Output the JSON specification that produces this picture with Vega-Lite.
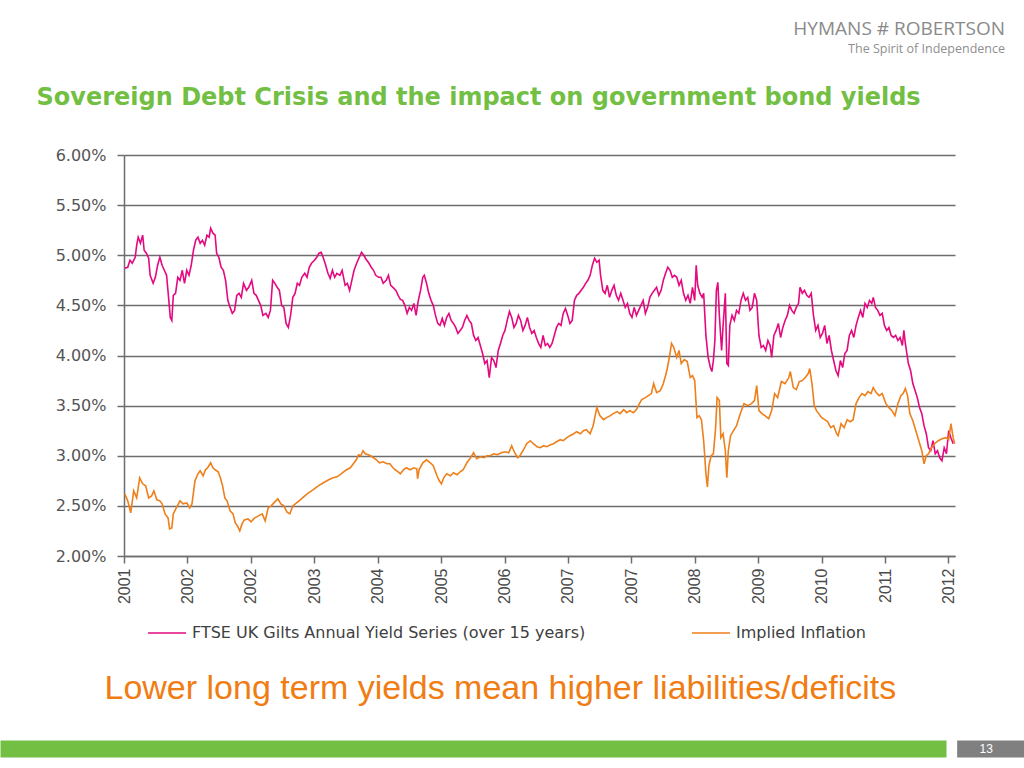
{
  "$schema": "https://vega.github.io/schema/vega-lite/v6.json",
  "width": 831,
  "height": 401,
  "autosize": {"type": "none"},
  "padding": {"left": 124, "top": 155, "right": 69, "bottom": 212},
  "background": "white",
  "title": {
    "text": "HYMANS # ROBERTSON",
    "subtitle": "The Spirit of Independence",
    "anchor": "end",
    "frame": "group",
    "dx": 50,
    "offset": 30,
    "font": "Open Sans",
    "fontSize": 19,
    "fontWeight": "normal",
    "color": "#8a8a8a",
    "subtitleFont": "Open Sans",
    "subtitleFontSize": 12.5,
    "subtitleColor": "#8f8f8f",
    "subtitlePadding": 4
  },
  "config": {"view": {"stroke": null}, "font": "Liberation Sans"},
  "resolve": {"axis": {"x": "independent"}},
  "datasets": {
    "gilts": [
      {"t":2001.21,"v":4.87},{"t":2001.25,"v":4.88},{"t":2001.28,"v":4.95},{"t":2001.31,"v":4.92},{"t":2001.35,"v":4.98},{"t":2001.37,"v":5.10},{"t":2001.39,"v":5.18},{"t":2001.42,"v":5.12},{"t":2001.45,"v":5.20},{"t":2001.47,"v":5.05},{"t":2001.50,"v":5.02},{"t":2001.53,"v":4.97},{"t":2001.55,"v":4.80},{"t":2001.59,"v":4.72},{"t":2001.62,"v":4.78},{"t":2001.65,"v":4.90},{"t":2001.68,"v":4.98},{"t":2001.71,"v":4.90},{"t":2001.74,"v":4.85},{"t":2001.77,"v":4.80},{"t":2001.80,"v":4.55},{"t":2001.82,"v":4.38},{"t":2001.84,"v":4.35},{"t":2001.86,"v":4.60},{"t":2001.89,"v":4.62},{"t":2001.92,"v":4.78},{"t":2001.95,"v":4.75},{"t":2001.98,"v":4.85},{"t":2002.01,"v":4.72},{"t":2002.04,"v":4.85},{"t":2002.07,"v":4.80},{"t":2002.10,"v":4.90},{"t":2002.13,"v":5.05},{"t":2002.16,"v":5.15},{"t":2002.19,"v":5.18},{"t":2002.22,"v":5.12},{"t":2002.25,"v":5.15},{"t":2002.28,"v":5.10},{"t":2002.31,"v":5.20},{"t":2002.34,"v":5.18},{"t":2002.36,"v":5.27},{"t":2002.39,"v":5.22},{"t":2002.42,"v":5.20},{"t":2002.44,"v":5.02},{"t":2002.47,"v":4.98},{"t":2002.50,"v":4.88},{"t":2002.53,"v":4.85},{"t":2002.56,"v":4.75},{"t":2002.59,"v":4.55},{"t":2002.62,"v":4.48},{"t":2002.65,"v":4.42},{"t":2002.68,"v":4.45},{"t":2002.71,"v":4.60},{"t":2002.74,"v":4.62},{"t":2002.77,"v":4.58},{"t":2002.80,"v":4.72},{"t":2002.84,"v":4.65},{"t":2002.87,"v":4.68},{"t":2002.91,"v":4.75},{"t":2002.94,"v":4.62},{"t":2002.97,"v":4.60},{"t":2003.00,"v":4.55},{"t":2003.03,"v":4.50},{"t":2003.06,"v":4.40},{"t":2003.10,"v":4.42},{"t":2003.13,"v":4.38},{"t":2003.16,"v":4.45},{"t":2003.19,"v":4.75},{"t":2003.22,"v":4.72},{"t":2003.25,"v":4.68},{"t":2003.28,"v":4.65},{"t":2003.31,"v":4.50},{"t":2003.34,"v":4.48},{"t":2003.37,"v":4.32},{"t":2003.40,"v":4.28},{"t":2003.43,"v":4.40},{"t":2003.46,"v":4.58},{"t":2003.49,"v":4.62},{"t":2003.52,"v":4.72},{"t":2003.55,"v":4.70},{"t":2003.58,"v":4.78},{"t":2003.62,"v":4.82},{"t":2003.65,"v":4.78},{"t":2003.68,"v":4.88},{"t":2003.71,"v":4.92},{"t":2003.75,"v":4.95},{"t":2003.78,"v":4.98},{"t":2003.81,"v":5.02},{"t":2003.84,"v":5.03},{"t":2003.87,"v":4.97},{"t":2003.90,"v":4.90},{"t":2003.93,"v":4.82},{"t":2003.96,"v":4.77},{"t":2003.99,"v":4.85},{"t":2004.02,"v":4.78},{"t":2004.05,"v":4.82},{"t":2004.09,"v":4.80},{"t":2004.12,"v":4.85},{"t":2004.16,"v":4.70},{"t":2004.19,"v":4.72},{"t":2004.22,"v":4.65},{"t":2004.25,"v":4.75},{"t":2004.28,"v":4.85},{"t":2004.32,"v":4.93},{"t":2004.35,"v":4.98},{"t":2004.38,"v":5.03},{"t":2004.41,"v":5.00},{"t":2004.44,"v":4.96},{"t":2004.48,"v":4.92},{"t":2004.51,"v":4.88},{"t":2004.54,"v":4.85},{"t":2004.57,"v":4.80},{"t":2004.61,"v":4.78},{"t":2004.64,"v":4.78},{"t":2004.67,"v":4.72},{"t":2004.71,"v":4.75},{"t":2004.74,"v":4.80},{"t":2004.77,"v":4.70},{"t":2004.80,"v":4.68},{"t":2004.84,"v":4.65},{"t":2004.87,"v":4.60},{"t":2004.90,"v":4.56},
      {"t":2004.93,"v":4.55},{"t":2004.96,"v":4.50},{"t":2004.99,"v":4.42},{"t":2005.02,"v":4.48},{"t":2005.05,"v":4.45},{"t":2005.08,"v":4.52},{"t":2005.11,"v":4.40},{"t":2005.14,"v":4.55},{"t":2005.17,"v":4.65},{"t":2005.20,"v":4.78},{"t":2005.22,"v":4.80},{"t":2005.25,"v":4.72},{"t":2005.28,"v":4.62},{"t":2005.31,"v":4.55},{"t":2005.34,"v":4.50},{"t":2005.37,"v":4.40},{"t":2005.40,"v":4.32},{"t":2005.43,"v":4.30},{"t":2005.46,"v":4.37},{"t":2005.49,"v":4.30},{"t":2005.52,"v":4.38},{"t":2005.55,"v":4.42},{"t":2005.58,"v":4.35},{"t":2005.61,"v":4.32},{"t":2005.64,"v":4.28},{"t":2005.67,"v":4.22},{"t":2005.70,"v":4.25},{"t":2005.73,"v":4.28},{"t":2005.76,"v":4.35},{"t":2005.79,"v":4.40},{"t":2005.82,"v":4.35},{"t":2005.85,"v":4.32},{"t":2005.88,"v":4.20},{"t":2005.91,"v":4.15},{"t":2005.94,"v":4.18},{"t":2005.97,"v":4.10},{"t":2006.00,"v":4.02},{"t":2006.03,"v":3.92},{"t":2006.06,"v":3.95},{"t":2006.09,"v":3.78},{"t":2006.12,"v":3.98},{"t":2006.15,"v":3.95},{"t":2006.18,"v":3.88},{"t":2006.21,"v":4.05},{"t":2006.24,"v":4.12},{"t":2006.27,"v":4.20},{"t":2006.30,"v":4.25},{"t":2006.33,"v":4.35},{"t":2006.36,"v":4.44},{"t":2006.39,"v":4.38},{"t":2006.42,"v":4.28},{"t":2006.45,"v":4.32},{"t":2006.48,"v":4.40},{"t":2006.51,"v":4.35},{"t":2006.54,"v":4.25},{"t":2006.57,"v":4.30},{"t":2006.60,"v":4.38},{"t":2006.63,"v":4.28},{"t":2006.66,"v":4.22},{"t":2006.69,"v":4.25},{"t":2006.72,"v":4.18},{"t":2006.75,"v":4.12},{"t":2006.78,"v":4.08},{"t":2006.81,"v":4.20},{"t":2006.84,"v":4.10},{"t":2006.87,"v":4.12},{"t":2006.90,"v":4.08},{"t":2006.93,"v":4.12},{"t":2006.96,"v":4.20},{"t":2006.99,"v":4.28},{"t":2007.02,"v":4.32},{"t":2007.05,"v":4.30},{"t":2007.08,"v":4.42},{"t":2007.11,"v":4.47},{"t":2007.14,"v":4.40},{"t":2007.17,"v":4.32},{"t":2007.20,"v":4.35},{"t":2007.23,"v":4.55},{"t":2007.26,"v":4.60},{"t":2007.29,"v":4.62},{"t":2007.32,"v":4.65},{"t":2007.35,"v":4.68},{"t":2007.38,"v":4.72},{"t":2007.41,"v":4.75},{"t":2007.44,"v":4.80},{"t":2007.47,"v":4.90},{"t":2007.50,"v":4.97},{"t":2007.53,"v":4.93},{"t":2007.56,"v":4.95},{"t":2007.58,"v":4.80},{"t":2007.61,"v":4.65},{"t":2007.64,"v":4.62},{"t":2007.67,"v":4.70},{"t":2007.70,"v":4.58},{"t":2007.73,"v":4.65},{"t":2007.76,"v":4.70},{"t":2007.79,"v":4.60},{"t":2007.82,"v":4.55},{"t":2007.85,"v":4.62},{"t":2007.88,"v":4.55},{"t":2007.91,"v":4.48},{"t":2007.94,"v":4.52},{"t":2007.97,"v":4.42},{"t":2008.00,"v":4.38},{"t":2008.03,"v":4.48},{"t":2008.06,"v":4.40},{"t":2008.09,"v":4.45},{"t":2008.12,"v":4.50},{"t":2008.15,"v":4.55},{"t":2008.18,"v":4.42},{"t":2008.21,"v":4.48},{"t":2008.24,"v":4.58},{"t":2008.27,"v":4.62},{"t":2008.30,"v":4.65},{"t":2008.33,"v":4.68},{"t":2008.36,"v":4.60},{"t":2008.39,"v":4.65},{"t":2008.42,"v":4.75},{"t":2008.45,"v":4.82},{"t":2008.48,"v":4.88},{"t":2008.51,"v":4.85},{"t":2008.54,"v":4.78},{"t":2008.57,"v":4.80},
      {"t":2008.60,"v":4.78},{"t":2008.63,"v":4.70},{"t":2008.66,"v":4.75},{"t":2008.69,"v":4.62},{"t":2008.72,"v":4.55},{"t":2008.75,"v":4.60},{"t":2008.78,"v":4.52},{"t":2008.81,"v":4.68},{"t":2008.84,"v":4.55},{"t":2008.86,"v":4.90},{"t":2008.88,"v":4.70},{"t":2008.91,"v":4.62},{"t":2008.94,"v":4.58},{"t":2008.96,"v":4.62},{"t":2008.99,"v":4.20},{"t":2009.02,"v":3.98},{"t":2009.05,"v":3.88},{"t":2009.07,"v":3.84},{"t":2009.09,"v":3.95},{"t":2009.11,"v":4.15},{"t":2009.13,"v":4.65},{"t":2009.15,"v":4.73},{"t":2009.17,"v":4.40},{"t":2009.20,"v":4.05},{"t":2009.22,"v":4.30},{"t":2009.25,"v":4.62},{"t":2009.27,"v":3.92},{"t":2009.29,"v":3.90},{"t":2009.31,"v":4.30},{"t":2009.34,"v":4.40},{"t":2009.37,"v":4.35},{"t":2009.40,"v":4.45},{"t":2009.43,"v":4.42},{"t":2009.46,"v":4.55},{"t":2009.49,"v":4.62},{"t":2009.52,"v":4.55},{"t":2009.55,"v":4.58},{"t":2009.58,"v":4.45},{"t":2009.61,"v":4.48},{"t":2009.64,"v":4.62},{"t":2009.67,"v":4.55},{"t":2009.70,"v":4.20},{"t":2009.73,"v":4.08},{"t":2009.76,"v":4.10},{"t":2009.79,"v":4.05},{"t":2009.82,"v":4.15},{"t":2009.85,"v":4.10},{"t":2009.87,"v":3.98},{"t":2009.90,"v":4.20},{"t":2009.93,"v":4.25},{"t":2009.96,"v":4.32},{"t":2009.99,"v":4.18},{"t":2010.02,"v":4.28},{"t":2010.05,"v":4.35},{"t":2010.08,"v":4.40},{"t":2010.11,"v":4.50},{"t":2010.14,"v":4.45},{"t":2010.17,"v":4.42},{"t":2010.20,"v":4.48},{"t":2010.23,"v":4.52},{"t":2010.25,"v":4.68},{"t":2010.28,"v":4.62},{"t":2010.31,"v":4.65},{"t":2010.34,"v":4.60},{"t":2010.37,"v":4.58},{"t":2010.40,"v":4.62},{"t":2010.43,"v":4.40},{"t":2010.46,"v":4.25},{"t":2010.49,"v":4.30},{"t":2010.52,"v":4.18},{"t":2010.55,"v":4.22},{"t":2010.58,"v":4.30},{"t":2010.61,"v":4.12},{"t":2010.64,"v":4.20},{"t":2010.67,"v":4.05},{"t":2010.70,"v":3.95},{"t":2010.73,"v":3.85},{"t":2010.76,"v":3.80},{"t":2010.79,"v":3.95},{"t":2010.82,"v":3.88},{"t":2010.85,"v":4.02},{"t":2010.88,"v":4.05},{"t":2010.91,"v":4.20},{"t":2010.94,"v":4.25},{"t":2010.97,"v":4.18},{"t":2011.00,"v":4.30},{"t":2011.03,"v":4.38},{"t":2011.06,"v":4.45},{"t":2011.09,"v":4.38},{"t":2011.12,"v":4.52},{"t":2011.15,"v":4.48},{"t":2011.18,"v":4.55},{"t":2011.21,"v":4.52},{"t":2011.23,"v":4.58},{"t":2011.26,"v":4.48},{"t":2011.29,"v":4.45},{"t":2011.32,"v":4.40},{"t":2011.35,"v":4.42},{"t":2011.38,"v":4.30},{"t":2011.41,"v":4.25},{"t":2011.44,"v":4.28},{"t":2011.47,"v":4.20},{"t":2011.50,"v":4.18},{"t":2011.53,"v":4.20},{"t":2011.56,"v":4.15},{"t":2011.59,"v":4.18},{"t":2011.62,"v":4.10},{"t":2011.64,"v":4.25},{"t":2011.66,"v":4.12},{"t":2011.68,"v":4.02},{"t":2011.70,"v":3.92},{"t":2011.73,"v":3.85},{"t":2011.76,"v":3.72},{"t":2011.79,"v":3.65},{"t":2011.82,"v":3.58},{"t":2011.85,"v":3.48},{"t":2011.88,"v":3.42},{"t":2011.91,"v":3.30},{"t":2011.94,"v":3.22},{"t":2011.97,"v":3.08},{"t":2012.00,"v":3.05},{"t":2012.03,"v":3.15},{"t":2012.06,"v":3.02},{"t":2012.09,"v":3.05},{"t":2012.12,"v":2.98},{"t":2012.15,"v":2.95},{"t":2012.18,"v":3.08},{"t":2012.21,"v":3.02},{"t":2012.24,"v":3.25},{"t":2012.27,"v":3.18},{"t":2012.30,"v":3.12}
    ],
    "inflation": [
      {"t":2001.21,"v":2.62},{"t":2001.25,"v":2.55},{"t":2001.29,"v":2.43},{"t":2001.33,"v":2.65},{"t":2001.37,"v":2.58},{"t":2001.41,"v":2.78},{"t":2001.45,"v":2.72},{"t":2001.49,"v":2.70},{"t":2001.53,"v":2.58},{"t":2001.57,"v":2.60},{"t":2001.60,"v":2.65},{"t":2001.64,"v":2.56},{"t":2001.68,"v":2.55},{"t":2001.71,"v":2.52},{"t":2001.75,"v":2.42},{"t":2001.79,"v":2.38},{"t":2001.81,"v":2.27},{"t":2001.84,"v":2.28},{"t":2001.86,"v":2.42},{"t":2001.90,"v":2.48},{"t":2001.95,"v":2.55},{"t":2001.99,"v":2.52},{"t":2002.04,"v":2.53},{"t":2002.08,"v":2.48},{"t":2002.11,"v":2.52},{"t":2002.15,"v":2.75},{"t":2002.19,"v":2.82},{"t":2002.22,"v":2.85},{"t":2002.26,"v":2.80},{"t":2002.29,"v":2.86},{"t":2002.32,"v":2.88},{"t":2002.36,"v":2.93},{"t":2002.39,"v":2.88},{"t":2002.42,"v":2.86},{"t":2002.46,"v":2.84},{"t":2002.49,"v":2.78},{"t":2002.52,"v":2.70},{"t":2002.55,"v":2.58},{"t":2002.58,"v":2.55},{"t":2002.62,"v":2.45},{"t":2002.66,"v":2.42},{"t":2002.69,"v":2.33},{"t":2002.72,"v":2.30},{"t":2002.75,"v":2.25},{"t":2002.78,"v":2.32},{"t":2002.81,"v":2.36},{"t":2002.86,"v":2.37},{"t":2002.90,"v":2.34},{"t":2002.95,"v":2.38},{"t":2003.00,"v":2.40},{"t":2003.05,"v":2.42},{"t":2003.09,"v":2.35},{"t":2003.13,"v":2.48},{"t":2003.17,"v":2.50},{"t":2003.22,"v":2.54},{"t":2003.26,"v":2.57},{"t":2003.30,"v":2.52},{"t":2003.34,"v":2.50},{"t":2003.38,"v":2.44},{"t":2003.42,"v":2.42},{"t":2003.46,"v":2.50},{"t":2003.51,"v":2.53},{"t":2003.56,"v":2.56},{"t":2003.62,"v":2.60},{"t":2003.67,"v":2.63},{"t":2003.73,"v":2.66},{"t":2003.80,"v":2.70},{"t":2003.87,"v":2.73},{"t":2003.94,"v":2.76},{"t":2004.00,"v":2.78},{"t":2004.05,"v":2.79},{"t":2004.09,"v":2.81},{"t":2004.14,"v":2.84},{"t":2004.18,"v":2.86},{"t":2004.23,"v":2.88},{"t":2004.27,"v":2.92},{"t":2004.31,"v":2.96},{"t":2004.34,"v":3.01},{"t":2004.37,"v":3.00},{"t":2004.40,"v":3.05},{"t":2004.43,"v":3.02},{"t":2004.47,"v":3.01},{"t":2004.50,"v":3.00},{"t":2004.54,"v":2.98},{"t":2004.58,"v":2.96},{"t":2004.62,"v":2.93},{"t":2004.67,"v":2.94},{"t":2004.72,"v":2.92},{"t":2004.76,"v":2.92},{"t":2004.80,"v":2.88},{"t":2004.83,"v":2.86},{"t":2004.87,"v":2.84},
      {"t":2004.90,"v":2.82},{"t":2004.94,"v":2.86},{"t":2004.98,"v":2.88},{"t":2005.03,"v":2.86},{"t":2005.08,"v":2.88},{"t":2005.12,"v":2.87},{"t":2005.13,"v":2.77},{"t":2005.15,"v":2.86},{"t":2005.20,"v":2.93},{"t":2005.25,"v":2.96},{"t":2005.30,"v":2.93},{"t":2005.34,"v":2.90},{"t":2005.39,"v":2.80},{"t":2005.42,"v":2.75},{"t":2005.45,"v":2.72},{"t":2005.48,"v":2.78},{"t":2005.52,"v":2.82},{"t":2005.57,"v":2.80},{"t":2005.61,"v":2.83},{"t":2005.66,"v":2.81},{"t":2005.70,"v":2.84},{"t":2005.74,"v":2.86},{"t":2005.79,"v":2.93},{"t":2005.84,"v":2.98},{"t":2005.88,"v":3.03},{"t":2005.92,"v":2.97},{"t":2005.97,"v":2.99},{"t":2006.02,"v":2.98},{"t":2006.06,"v":3.00},{"t":2006.10,"v":3.00},{"t":2006.15,"v":3.02},{"t":2006.20,"v":3.01},{"t":2006.25,"v":3.03},{"t":2006.30,"v":3.04},{"t":2006.35,"v":3.03},{"t":2006.39,"v":3.10},{"t":2006.43,"v":3.03},{"t":2006.47,"v":2.98},{"t":2006.50,"v":3.00},{"t":2006.55,"v":3.06},{"t":2006.59,"v":3.12},{"t":2006.64,"v":3.15},{"t":2006.68,"v":3.12},{"t":2006.73,"v":3.09},{"t":2006.77,"v":3.08},{"t":2006.82,"v":3.10},{"t":2006.86,"v":3.09},{"t":2006.91,"v":3.11},{"t":2006.95,"v":3.12},{"t":2006.99,"v":3.14},{"t":2007.04,"v":3.16},{"t":2007.08,"v":3.15},{"t":2007.13,"v":3.18},{"t":2007.17,"v":3.20},{"t":2007.22,"v":3.22},{"t":2007.26,"v":3.24},{"t":2007.31,"v":3.22},{"t":2007.35,"v":3.25},{"t":2007.39,"v":3.26},{"t":2007.44,"v":3.22},{"t":2007.48,"v":3.30},{"t":2007.53,"v":3.48},{"t":2007.57,"v":3.40},{"t":2007.62,"v":3.36},{"t":2007.66,"v":3.38},{"t":2007.71,"v":3.40},{"t":2007.75,"v":3.42},{"t":2007.80,"v":3.44},{"t":2007.84,"v":3.42},{"t":2007.89,"v":3.46},{"t":2007.93,"v":3.43},{"t":2007.97,"v":3.45},{"t":2008.02,"v":3.43},{"t":2008.06,"v":3.46},{"t":2008.10,"v":3.52},{"t":2008.13,"v":3.56},{"t":2008.18,"v":3.58},{"t":2008.22,"v":3.60},{"t":2008.26,"v":3.62},{"t":2008.29,"v":3.72},{"t":2008.33,"v":3.63},{"t":2008.38,"v":3.65},{"t":2008.42,"v":3.72},{"t":2008.45,"v":3.80},{"t":2008.47,"v":3.86},{"t":2008.50,"v":3.98},{"t":2008.53,"v":4.12},{"t":2008.56,"v":4.08},{"t":2008.60,"v":3.98},{"t":2008.63,"v":4.05},{"t":2008.66,"v":3.92},
      {"t":2008.70,"v":3.96},{"t":2008.74,"v":3.94},{"t":2008.78,"v":3.78},{"t":2008.81,"v":3.80},{"t":2008.84,"v":3.75},{"t":2008.87,"v":3.38},{"t":2008.90,"v":3.40},{"t":2008.93,"v":3.36},{"t":2008.96,"v":3.15},{"t":2008.99,"v":2.82},{"t":2009.01,"v":2.69},{"t":2009.03,"v":2.90},{"t":2009.06,"v":3.00},{"t":2009.09,"v":3.02},{"t":2009.12,"v":3.28},{"t":2009.14,"v":3.58},{"t":2009.17,"v":3.55},{"t":2009.19,"v":3.18},{"t":2009.22,"v":3.22},{"t":2009.25,"v":3.05},{"t":2009.27,"v":2.78},{"t":2009.29,"v":3.05},{"t":2009.32,"v":3.20},{"t":2009.36,"v":3.25},{"t":2009.40,"v":3.30},{"t":2009.45,"v":3.42},{"t":2009.50,"v":3.52},{"t":2009.55,"v":3.50},{"t":2009.60,"v":3.52},{"t":2009.64,"v":3.55},{"t":2009.67,"v":3.70},{"t":2009.70,"v":3.45},{"t":2009.74,"v":3.42},{"t":2009.78,"v":3.40},{"t":2009.83,"v":3.37},{"t":2009.87,"v":3.45},{"t":2009.91,"v":3.62},{"t":2009.95,"v":3.58},{"t":2010.00,"v":3.74},{"t":2010.05,"v":3.72},{"t":2010.10,"v":3.78},{"t":2010.12,"v":3.84},{"t":2010.16,"v":3.68},{"t":2010.20,"v":3.66},{"t":2010.24,"v":3.74},{"t":2010.28,"v":3.75},{"t":2010.32,"v":3.78},{"t":2010.36,"v":3.82},{"t":2010.38,"v":3.87},{"t":2010.41,"v":3.72},{"t":2010.44,"v":3.50},{"t":2010.47,"v":3.45},{"t":2010.50,"v":3.42},{"t":2010.54,"v":3.38},{"t":2010.58,"v":3.36},{"t":2010.62,"v":3.34},{"t":2010.66,"v":3.28},{"t":2010.70,"v":3.30},{"t":2010.74,"v":3.22},{"t":2010.76,"v":3.20},{"t":2010.80,"v":3.32},{"t":2010.84,"v":3.28},{"t":2010.88,"v":3.36},{"t":2010.92,"v":3.34},{"t":2010.96,"v":3.36},{"t":2011.00,"v":3.52},{"t":2011.04,"v":3.58},{"t":2011.08,"v":3.62},{"t":2011.12,"v":3.60},{"t":2011.16,"v":3.64},{"t":2011.20,"v":3.62},{"t":2011.23,"v":3.68},{"t":2011.27,"v":3.63},{"t":2011.31,"v":3.60},{"t":2011.35,"v":3.62},{"t":2011.40,"v":3.52},{"t":2011.44,"v":3.48},{"t":2011.48,"v":3.45},{"t":2011.52,"v":3.40},{"t":2011.56,"v":3.52},{"t":2011.60,"v":3.60},{"t":2011.63,"v":3.62},{"t":2011.66,"v":3.67},{"t":2011.69,"v":3.60},{"t":2011.72,"v":3.42},{"t":2011.76,"v":3.35},{"t":2011.80,"v":3.25},{"t":2011.84,"v":3.15},{"t":2011.88,"v":3.05},{"t":2011.91,"v":2.92},{"t":2011.94,"v":3.00},{"t":2011.97,"v":3.02},{"t":2012.01,"v":3.08},{"t":2012.05,"v":3.12},{"t":2012.10,"v":3.15},{"t":2012.15,"v":3.17},{"t":2012.20,"v":3.18},{"t":2012.24,"v":3.16},{"t":2012.27,"v":3.32},{"t":2012.30,"v":3.18},{"t":2012.32,"v":3.12}
    ]
  },
  "encoding": {
    "y": {
      "field": "v",
      "type": "quantitative",
      "scale": {"domain": [2, 6], "nice": false, "zero": false},
      "axis": {
        "values": [2, 2.5, 3, 3.5, 4, 4.5, 5, 5.5, 6],
        "labelExpr": "format(datum.value, '.2f') + '%'",
        "grid": true,
        "gridColor": "#6d6d6d",
        "gridWidth": 1.5,
        "domainColor": "#6d6d6d",
        "domainWidth": 1.5,
        "tickColor": "#6d6d6d",
        "tickSize": 7,
        "tickWidth": 1.5,
        "labelFont": "DejaVu Sans",
        "labelFontSize": 16,
        "labelColor": "#555555",
        "labelPadding": 11,
        "title": "Sovereign Debt Crisis and the impact on government bond yields",
        "titleAngle": 0,
        "titleX": -88,
        "titleY": -51,
        "titleAlign": "left",
        "titleAnchor": "start",
        "titleBaseline": "alphabetic",
        "titleFont": "DejaVu Sans",
        "titleFontSize": 24,
        "titleFontWeight": "bold",
        "titleColor": "#72bf44"
      }
    }
  },
  "layer": [
    {
      "data": {"name": "gilts"},
      "mark": {"type": "line", "strokeWidth": 1.6},
      "encoding": {
        "x": {
          "field": "t",
          "type": "quantitative",
          "scale": {"domain": [2001.2, 2012.3245], "nice": false, "zero": false},
          "axis": {
            "orient": "bottom",
            "values": [2001.2, 2002.049, 2002.898, 2003.747, 2004.596, 2005.445, 2006.294, 2007.143, 2007.992, 2008.841, 2009.69, 2010.539, 2011.388, 2012.237],
            "labelExpr": "'' + floor(datum.value)",
            "labelAngle": -90,
            "labelAlign": "right",
            "labelBaseline": "middle",
            "labelPadding": 5,
            "labelFont": "Liberation Sans",
            "labelFontSize": 16,
            "labelColor": "#4a4a4a",
            "labelOverlap": false,
            "labelFlush": false,
            "grid": false,
            "domainColor": "#6d6d6d",
            "domainWidth": 1.5,
            "tickColor": "#6d6d6d",
            "tickSize": 7,
            "tickWidth": 1.5,
            "title": "Lower long term yields mean higher liabilities/deficits",
            "titleX": -20,
            "titleY": 142,
            "titleAlign": "left",
            "titleAnchor": "start",
            "titleBaseline": "alphabetic",
            "titleFont": "Liberation Sans",
            "titleFontSize": 34,
            "titleFontWeight": "normal",
            "titleColor": "#f07d14"
          }
        },
        "color": {
          "datum": "FTSE UK Gilts Annual Yield Series (over 15 years)",
          "type": "nominal",
          "scale": {
            "domain": ["FTSE UK Gilts Annual Yield Series (over 15 years)", "Implied Inflation"],
            "range": ["#e5097f", "#ee7f1a"]
          },
          "legend": {
            "orient": "none",
            "legendX": 23,
            "legendY": 458,
            "direction": "horizontal",
            "title": null,
            "symbolType": "stroke",
            "symbolSize": 1444,
            "symbolStrokeWidth": 1.5,
            "labelFont": "DejaVu Sans",
            "labelFontSize": 16,
            "labelColor": "#404040",
            "labelOffset": 5,
            "labelLimit": 600,
            "columnPadding": 103,
            "padding": 0
          }
        }
      }
    },
    {
      "data": {"name": "inflation"},
      "mark": {"type": "line", "strokeWidth": 1.6},
      "encoding": {
        "x": {
          "field": "t",
          "type": "quantitative",
          "axis": {
            "orient": "bottom",
            "offset": 184,
            "values": [2005.397, 2012.32],
            "tickOffset": 35.5,
            "labelExpr": "datum.value > 2010 ? '13' : ''",
            "labelAngle": 0,
            "labelAlign": "center",
            "labelBaseline": "middle",
            "labelOffset": -4.5,
            "labelPadding": -9,
            "labelOverlap": false,
            "labelFlush": false,
            "labelBound": false,
            "labelFont": "Liberation Sans",
            "labelFontSize": 12,
            "labelColor": "#ffffff",
            "grid": false,
            "domain": false,
            "tickColor": {"condition": {"test": "datum.value > 2010", "value": "#808080"}, "value": "#72bf44"},
            "tickWidth": {"condition": {"test": "datum.value > 2010", "value": 67}, "value": 946},
            "tickSize": 17,
            "tickRound": false,
            "title": null
          }
        },
        "color": {"datum": "Implied Inflation", "type": "nominal"}
      }
    }
  ]
}
